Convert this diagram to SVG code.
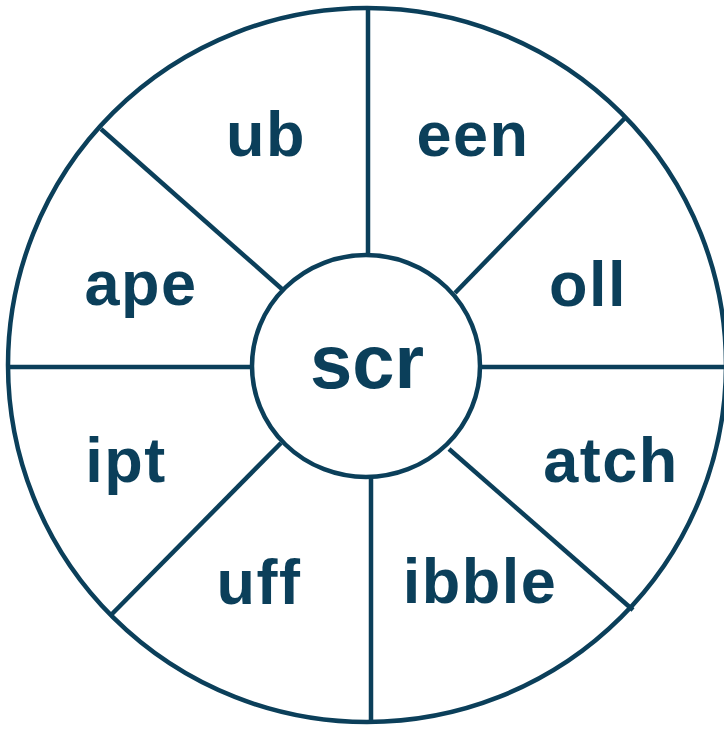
<svg xmlns="http://www.w3.org/2000/svg" width="724" height="729" viewBox="0 0 724 729">
<style>
.ln{stroke:#0b3f5a;stroke-width:4.5;fill:none}
.t{font-family:"Liberation Sans",Arial,sans-serif;font-weight:bold;font-size:63px;letter-spacing:1.5px;fill:#0b3f5a;text-anchor:middle}
.c{font-size:76px;letter-spacing:0}
</style>
<rect width="724" height="729" fill="#ffffff"/>
<g id="wheel">
<ellipse class="ln" cx="367" cy="365" rx="359" ry="357"/>
</g>
<g id="connectors">
<line class="ln" x1="368" y1="9" x2="368" y2="256"/>
<line class="ln" x1="371" y1="476" x2="371" y2="722"/>
<line class="ln" x1="8" y1="367" x2="252" y2="367"/>
<line class="ln" x1="480" y1="367" x2="726" y2="367"/>
<line class="ln" x1="101" y1="129" x2="283" y2="290"/>
<line class="ln" x1="625" y1="118" x2="455" y2="293"/>
<line class="ln" x1="110" y1="616" x2="281" y2="443"/>
<line class="ln" x1="633" y1="610" x2="449" y2="449"/>
</g>
<g id="center">
<ellipse class="ln" cx="366" cy="366" rx="114" ry="111" fill="#ffffff"/>
<text class="t c" x="367" y="388">scr</text>
</g>
<g id="seg-ub"><text class="t" x="266" y="156">ub</text></g>
<g id="seg-een"><text class="t" x="473" y="156">een</text></g>
<g id="seg-oll"><text class="t" x="588" y="306">oll</text></g>
<g id="seg-atch"><text class="t" x="611" y="482">atch</text></g>
<g id="seg-ibble"><text class="t" x="480" y="603">ibble</text></g>
<g id="seg-uff"><text class="t" x="259" y="604">uff</text></g>
<g id="seg-ipt"><text class="t" x="126" y="482">ipt</text></g>
<g id="seg-ape"><text class="t" x="141" y="305">ape</text></g>
</svg>
